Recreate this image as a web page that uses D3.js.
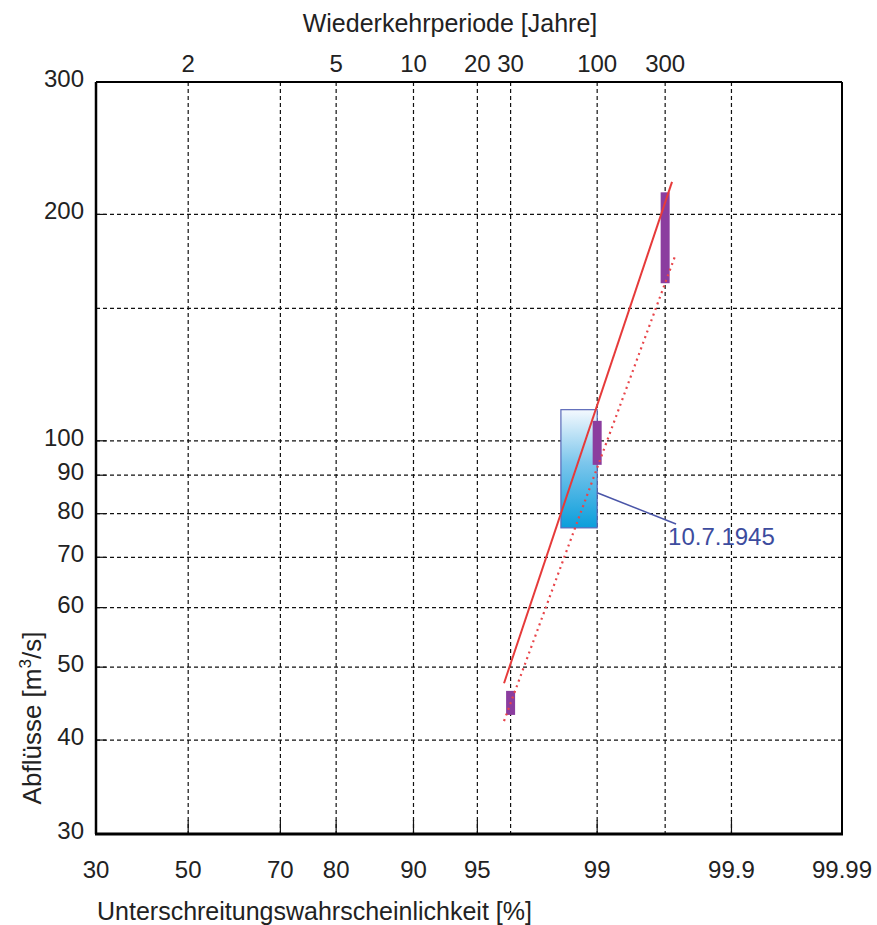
<!DOCTYPE html>
<html>
<head>
<meta charset="utf-8">
<script src="https://cdn.jsdelivr.net/npm/d3@7"></script>
<style>
  body { margin: 0; background: #fff; }
  svg { font-family: "Liberation Sans", Arial, sans-serif; }
</style>
</head>
<body>
<svg id="chart" width="877" height="925"></svg>
<script>
// ---------- data ----------
const probTicks = [30, 50, 70, 80, 90, 95, 99, 99.9, 99.99];          // bottom axis [%]
const returnPeriods = [2, 5, 10, 20, 30, 100, 300];                   // top axis [Jahre]
const qTicks = [30, 40, 50, 60, 70, 80, 90, 100, 200, 300];           // left axis labels
const qGrid = [40, 50, 60, 70, 80, 90, 100, 150, 200];                // horizontal grid
// fitted line (solid) and lower line (dotted): [non-exceedance %, discharge]
const fitLine = [[96.38, 47.6], [99.704, 221]];
const lowerLine = [[96.38, 42.4], [99.719, 176]];
// confidence bars at return periods: [T, Qlow, Qhigh]
const ciBars = [[30, 43.2, 46.5], [100, 92.9, 106.3], [300, 162, 214]];
// event box 10.7.1945: [pLeft %, pRight %, Qlow, Qhigh]
const eventBox = [98.3, 99.0, 76.6, 110];
const eventLabel = "10.7.1945";
const eventPointer = [[99.0, 85.3], [99.724, 77.5]];

// ---------- helpers ----------
function probit(p) { // inverse standard normal CDF (Acklam)
  const a = [-3.969683028665376e+01, 2.209460984245205e+02, -2.759285104469687e+02, 1.383577518672690e+02, -3.066479806614716e+01, 2.506628277459239e+00];
  const b = [-5.447609879822406e+01, 1.615858368580409e+02, -1.556989798598866e+02, 6.680131188771972e+01, -1.328068155288572e+01];
  const c = [-7.784894002430293e-03, -3.223964580411365e-01, -2.400758277161838e+00, -2.549732539343734e+00, 4.374664141464968e+00, 2.938163982698783e+00];
  const d = [7.784695709041462e-03, 3.224671290700398e-01, 2.445134137142996e+00, 3.754408661907416e+00];
  const pl = 0.02425, ph = 1 - pl;
  let q, r;
  if (p < pl) { q = Math.sqrt(-2 * Math.log(p)); return (((((c[0]*q+c[1])*q+c[2])*q+c[3])*q+c[4])*q+c[5]) / ((((d[0]*q+d[1])*q+d[2])*q+d[3])*q+1); }
  if (p <= ph) { q = p - 0.5; r = q*q; return (((((a[0]*r+a[1])*r+a[2])*r+a[3])*r+a[4])*r+a[5])*q / (((((b[0]*r+b[1])*r+b[2])*r+b[3])*r+b[4])*r+1); }
  q = Math.sqrt(-2 * Math.log(1 - p));
  return -(((((c[0]*q+c[1])*q+c[2])*q+c[3])*q+c[4])*q+c[5]) / ((((d[0]*q+d[1])*q+d[2])*q+d[3])*q+1);
}
const pctToZ = pct => probit(pct / 100);
const tToPct = T => 100 * (1 - 1 / T);

// ---------- layout ----------
const L = 96, R = 842, T0 = 82, B = 834;
const svg = d3.select("#chart");

const zScale = d3.scaleLinear().domain([pctToZ(30), pctToZ(99.99)]).range([L, R]);
const x = pct => zScale(pctToZ(pct));
const y = d3.scaleLog().domain([30, 300]).range([B, T0]);

const FS = 24, TFS = 25;

// gradient
const defs = svg.append("defs");
const grad = defs.append("linearGradient").attr("id", "boxGrad").attr("x1", 0).attr("y1", 0).attr("x2", 0).attr("y2", 1);
grad.append("stop").attr("offset", "0%").attr("stop-color", "#f4f9fe");
grad.append("stop").attr("offset", "45%").attr("stop-color", "#7cc6ec");
grad.append("stop").attr("offset", "100%").attr("stop-color", "#0b9edb");

// ---------- grid ----------
const vGrid = Array.from(new Set([50, 70, 80, 90, 95, 99, 99.9].concat(returnPeriods.map(tToPct)).map(v => +v.toFixed(4))));
const grid = svg.append("g").attr("stroke", "#111").attr("stroke-width", 1.2).attr("stroke-dasharray", "4,3").attr("fill", "none");
grid.selectAll("line.v").data(vGrid).join("line")
  .attr("x1", d => x(d)).attr("x2", d => x(d)).attr("y1", T0).attr("y2", B);
grid.selectAll("line.h").data(qGrid).join("line")
  .attr("x1", L).attr("x2", R).attr("y1", d => y(d)).attr("y2", d => y(d));

// inner solid ticks
const ticks = svg.append("g").attr("stroke", "#111").attr("stroke-width", 1.2);
ticks.selectAll("line.b").data(probTicks.slice(1, -1)).join("line")
  .attr("x1", d => x(d)).attr("x2", d => x(d)).attr("y1", B).attr("y2", B - 14);
ticks.selectAll("line.l").data(qTicks.slice(1, -1)).join("line")
  .attr("x1", L).attr("x2", L + 10).attr("y1", d => y(d)).attr("y2", d => y(d));

// ---------- event box ----------
svg.append("rect")
  .attr("x", x(eventBox[0])).attr("y", y(eventBox[3]))
  .attr("width", x(eventBox[1]) - x(eventBox[0])).attr("height", y(eventBox[2]) - y(eventBox[3]))
  .attr("fill", "url(#boxGrad)").attr("stroke", "#5a68b8").attr("stroke-width", 1.2);

// ---------- CI bars ----------
svg.append("g").selectAll("rect").data(ciBars).join("rect")
  .attr("x", d => x(tToPct(d[0])) - 4.5).attr("width", 9)
  .attr("y", d => y(d[2])).attr("height", d => y(d[1]) - y(d[2]))
  .attr("fill", "#8b3d9f");

// ---------- lines ----------
const lineGen = d3.line().x(d => x(d[0])).y(d => y(d[1]));
svg.append("path").datum(fitLine).attr("d", lineGen)
  .attr("stroke", "#e63a3a").attr("stroke-width", 2).attr("fill", "none");
svg.append("path").datum(lowerLine).attr("d", lineGen)
  .attr("stroke", "#e8454a").attr("stroke-width", 2.2).attr("stroke-dasharray", "2,4").attr("fill", "none");

// ---------- annotation ----------
svg.append("path").datum(eventPointer).attr("d", lineGen)
  .attr("stroke", "#4a55a8").attr("stroke-width", 1.5).attr("fill", "none");
svg.append("text")
  .attr("x", x(eventPointer[1][0]) - 8).attr("y", y(eventPointer[1][1]) + 21)
  .attr("font-size", FS).attr("fill", "#3d4c9e").text(eventLabel);

// ---------- frame ----------
const frame = svg.append("g").attr("stroke", "#000").attr("fill", "none");
frame.append("line").attr("x1", L).attr("x2", R).attr("y1", T0).attr("y2", T0).attr("stroke-width", 2);
frame.append("line").attr("x1", R).attr("x2", R).attr("y1", T0).attr("y2", B).attr("stroke-width", 2);
frame.append("line").attr("x1", L).attr("x2", L).attr("y1", T0).attr("y2", B).attr("stroke-width", 2.5);
frame.append("line").attr("x1", L - 1).attr("x2", R + 1).attr("y1", B).attr("y2", B).attr("stroke-width", 3);

// ---------- tick labels ----------
const lab = svg.append("g").attr("font-size", FS).attr("fill", "#222");
lab.selectAll("text.b").data(probTicks).join("text")
  .attr("x", d => x(d)).attr("y", 878).attr("text-anchor", "middle").text(d => d);
lab.selectAll("text.t").data(returnPeriods).join("text")
  .attr("x", d => x(tToPct(d))).attr("y", 72).attr("text-anchor", "middle").text(d => d);
lab.selectAll("text.l").data(qTicks).join("text")
  .attr("x", 84).attr("y", d => y(d) + 5).attr("text-anchor", "end").text(d => d);

// ---------- axis titles ----------
svg.append("text").attr("x", 450).attr("y", 32).attr("text-anchor", "middle")
  .attr("font-size", TFS).attr("fill", "#222").text("Wiederkehrperiode [Jahre]");
svg.append("text").attr("x", 97).attr("y", 920).attr("text-anchor", "start")
  .attr("font-size", TFS).attr("fill", "#222").text("Unterschreitungswahrscheinlichkeit [%]");
const yt = svg.append("text").attr("transform", "translate(41,718) rotate(-90)")
  .attr("text-anchor", "middle").attr("font-size", 26).attr("fill", "#222");
yt.append("tspan").text("Abflüsse [m");
yt.append("tspan").attr("font-size", 17).attr("dy", -10).text("3");
yt.append("tspan").attr("dy", 10).text("/s]");
</script>
</body>
</html>
